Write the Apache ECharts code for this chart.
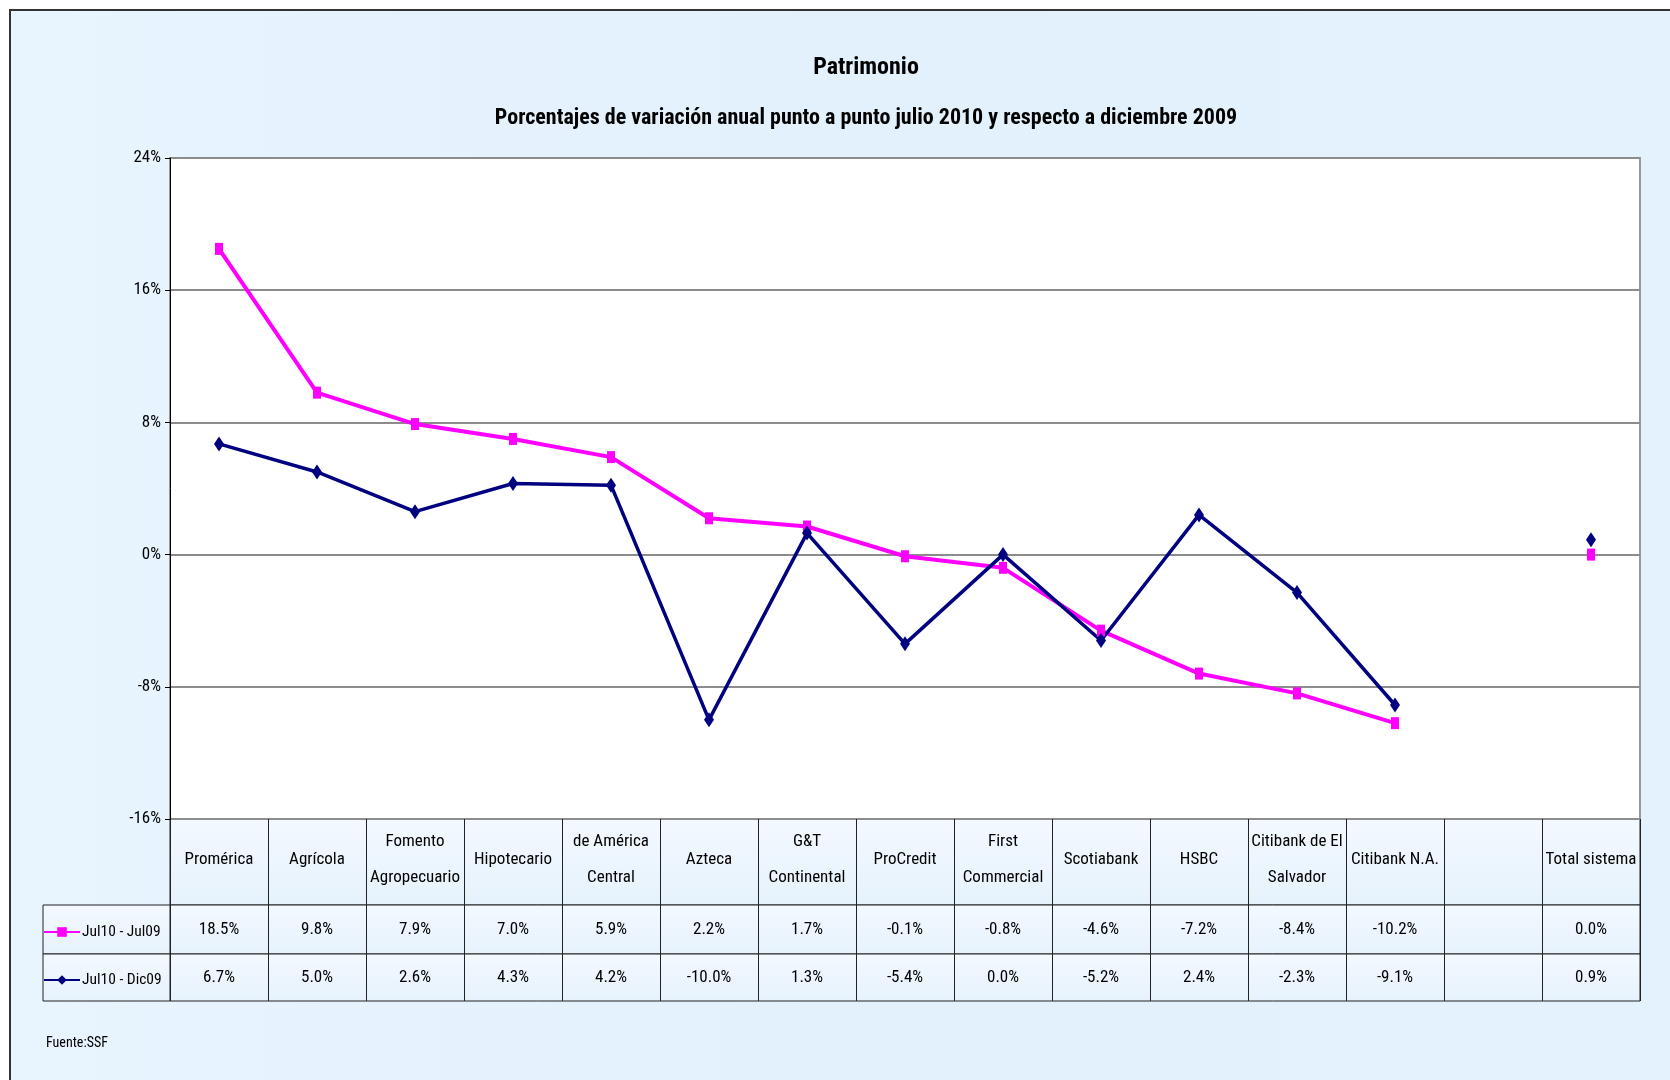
<!DOCTYPE html>
<html>
<head>
<meta charset="utf-8">
<script src="https://cdn.jsdelivr.net/npm/echarts@6/dist/echarts.min.js"></script>
<style>
  html, body { margin: 0; padding: 0; background: #fff; }
  #chart { width: 1670px; height: 1080px; }
</style>
</head>
<body>
<div id="chart"></div>
<script>
// categorias (con salto de linea como en la tabla de Excel)
const categories = ['Promérica', 'Agrícola', 'Fomento\nAgropecuario', 'Hipotecario', 'de América\nCentral',
  'Azteca', 'G&T\nContinental', 'ProCredit', 'First\nCommercial', 'Scotiabank', 'HSBC',
  'Citibank de El\nSalvador', 'Citibank N.A.', '', 'Total sistema'];
const seriesNames = ['Jul10 - Jul09', 'Jul10 - Dic09'];
const jul09 = [18.5, 9.8, 7.9, 7.0, 5.9, 2.2, 1.7, -0.1, -0.8, -4.6, -7.2, -8.4, -10.2, null, 0.0];
const dic09 = [6.7, 5.0, 2.6, 4.3, 4.2, -10.0, 1.3, -5.4, 0.0, -5.2, 2.4, -2.3, -9.1, null, 0.9];
const yMin = -16, yMax = 24, yStep = 8;

const FONT = '"Roboto Condensed", "Liberation Sans Narrow", "Arial Narrow", sans-serif';
const PINK = '#FF00FF';
const NAVY = '#000080';

const fmt = v => (v == null ? '' : v.toFixed(1) + '%');

const cellBg = new echarts.graphic.LinearGradient(0, 0, 0, 1, [
  { offset: 0, color: '#F3F9FF' },
  { offset: 1, color: '#E6F2FC' }
]);

// filas de la tabla: un eje de categorias por fila
const rowAxis = (gridIndex, values, margin) => ({
  gridIndex,
  type: 'category',
  data: categories,
  position: 'top',
  boundaryGap: true,
  axisLine: { show: false },
  axisTick: { show: false },
  splitLine: { show: true, lineStyle: { color: '#222', width: 1 } },
  axisLabel: {
    interval: 0,
    margin,
    verticalAlign: 'middle',
    fontFamily: FONT,
    fontSize: 17,
    color: '#000',
    formatter: (v, i) => fmt(values[i])
  }
});

const hiddenAxis = (gridIndex, type) => ({ gridIndex, type, show: false });

const chart = echarts.init(document.getElementById('chart'));

const option = {
  backgroundColor: '#fff',
  animation: false,
  graphic: [{
    type: 'rect',
    z: -10,
    silent: true,
    shape: { x: 10, y: 10, width: 1700, height: 1100 },
    style: {
      fill: new echarts.graphic.LinearGradient(0, 0, 1, 0, [
        { offset: 0, color: '#E8F4FE' },
        { offset: 0.5, color: '#E3F1FD' },
        { offset: 1, color: '#E4F2FD' }
      ]),
      stroke: '#333',
      lineWidth: 2
    }
  }],
  title: [
    {
      text: 'Patrimonio',
      left: 861, top: 51, textAlign: 'center',
      textStyle: { fontFamily: FONT, fontSize: 24, fontWeight: 'bold', color: '#000' }
    },
    {
      text: 'Porcentajes de variación anual punto a punto julio 2010 y respecto a diciembre 2009',
      left: 861, top: 102, textAlign: 'center',
      textStyle: { fontFamily: FONT, fontSize: 22, fontWeight: 'bold', color: '#000' }
    },
    {
      text: 'Fuente:SSF',
      left: 41, top: 1031,
      textStyle: { fontFamily: FONT, fontSize: 14, fontWeight: 'normal', color: '#000' }
    }
  ],
  legend: {
    orient: 'vertical',
    left: 38,
    top: 917,
    itemGap: 28,
    itemWidth: 36,
    itemHeight: 12,
    data: seriesNames,
    textStyle: { fontFamily: FONT, fontSize: 15.5, color: '#000', lineHeight: 20, padding: [0, 0, 0, -3] }
  },
  grid: [
    { left: 170, top: 158, width: 1470, height: 661, show: true, backgroundColor: '#fff', borderColor: '#999', borderWidth: 2 },
    { left: 170, top: 819, width: 1470, height: 86, show: true, backgroundColor: cellBg, borderColor: '#222', borderWidth: 1 },
    { left: 170, top: 905, width: 1470, height: 49, show: true, backgroundColor: cellBg, borderColor: '#222', borderWidth: 1 },
    { left: 170, top: 954, width: 1470, height: 47, show: true, backgroundColor: cellBg, borderColor: '#222', borderWidth: 1 },
    { left: 43, top: 905, width: 127, height: 49, show: true, backgroundColor: cellBg, borderColor: '#222', borderWidth: 1 },
    { left: 43, top: 954, width: 127, height: 47, show: true, backgroundColor: cellBg, borderColor: '#222', borderWidth: 1 }
  ],
  xAxis: [
    {
      gridIndex: 0,
      type: 'category',
      data: categories,
      boundaryGap: true,
      axisLine: { show: false },
      axisTick: { show: false },
      axisLabel: { show: false }
    },
    {
      gridIndex: 1,
      type: 'category',
      data: categories,
      position: 'top',
      boundaryGap: true,
      axisLine: { show: false },
      axisTick: { show: false },
      splitLine: { show: true, lineStyle: { color: '#222', width: 1 } },
      axisLabel: {
        interval: 0,
        margin: -41,
        verticalAlign: 'middle',
        align: 'center',
        lineHeight: 36,
        fontFamily: FONT,
        fontSize: 17,
        color: '#000'
      }
    },
    rowAxis(2, jul09, -25),
    rowAxis(3, dic09, -24),
    hiddenAxis(4, 'category'),
    hiddenAxis(5, 'category')
  ],
  yAxis: [
    {
      gridIndex: 0,
      type: 'value',
      min: yMin,
      max: yMax,
      interval: yStep,
      axisLine: { show: true, lineStyle: { color: '#000', width: 1 } },
      axisTick: { show: true, length: 5, lineStyle: { color: '#000' } },
      splitLine: { show: true, lineStyle: { color: '#8c8c8c', width: 2 } },
      axisLabel: {
        margin: 9,
        fontFamily: FONT,
        fontSize: 17,
        color: '#000',
        formatter: '{value}%'
      }
    },
    hiddenAxis(1, 'value'),
    hiddenAxis(2, 'value'),
    hiddenAxis(3, 'value'),
    hiddenAxis(4, 'value'),
    hiddenAxis(5, 'value')
  ],
  series: [
    {
      name: seriesNames[0],
      type: 'line',
      xAxisIndex: 0,
      yAxisIndex: 0,
      data: jul09,
      connectNulls: false,
      symbol: 'rect',
      symbolSize: [8, 12],
      itemStyle: { color: PINK },
      lineStyle: { color: PINK, width: 4 }
    },
    {
      name: seriesNames[1],
      type: 'line',
      xAxisIndex: 0,
      yAxisIndex: 0,
      data: dic09,
      connectNulls: false,
      symbol: 'diamond',
      symbolSize: [10, 15],
      itemStyle: { color: NAVY },
      lineStyle: { color: NAVY, width: 3.5 }
    }
  ]
};

chart.setOption(option);
</script>
</body>
</html>
